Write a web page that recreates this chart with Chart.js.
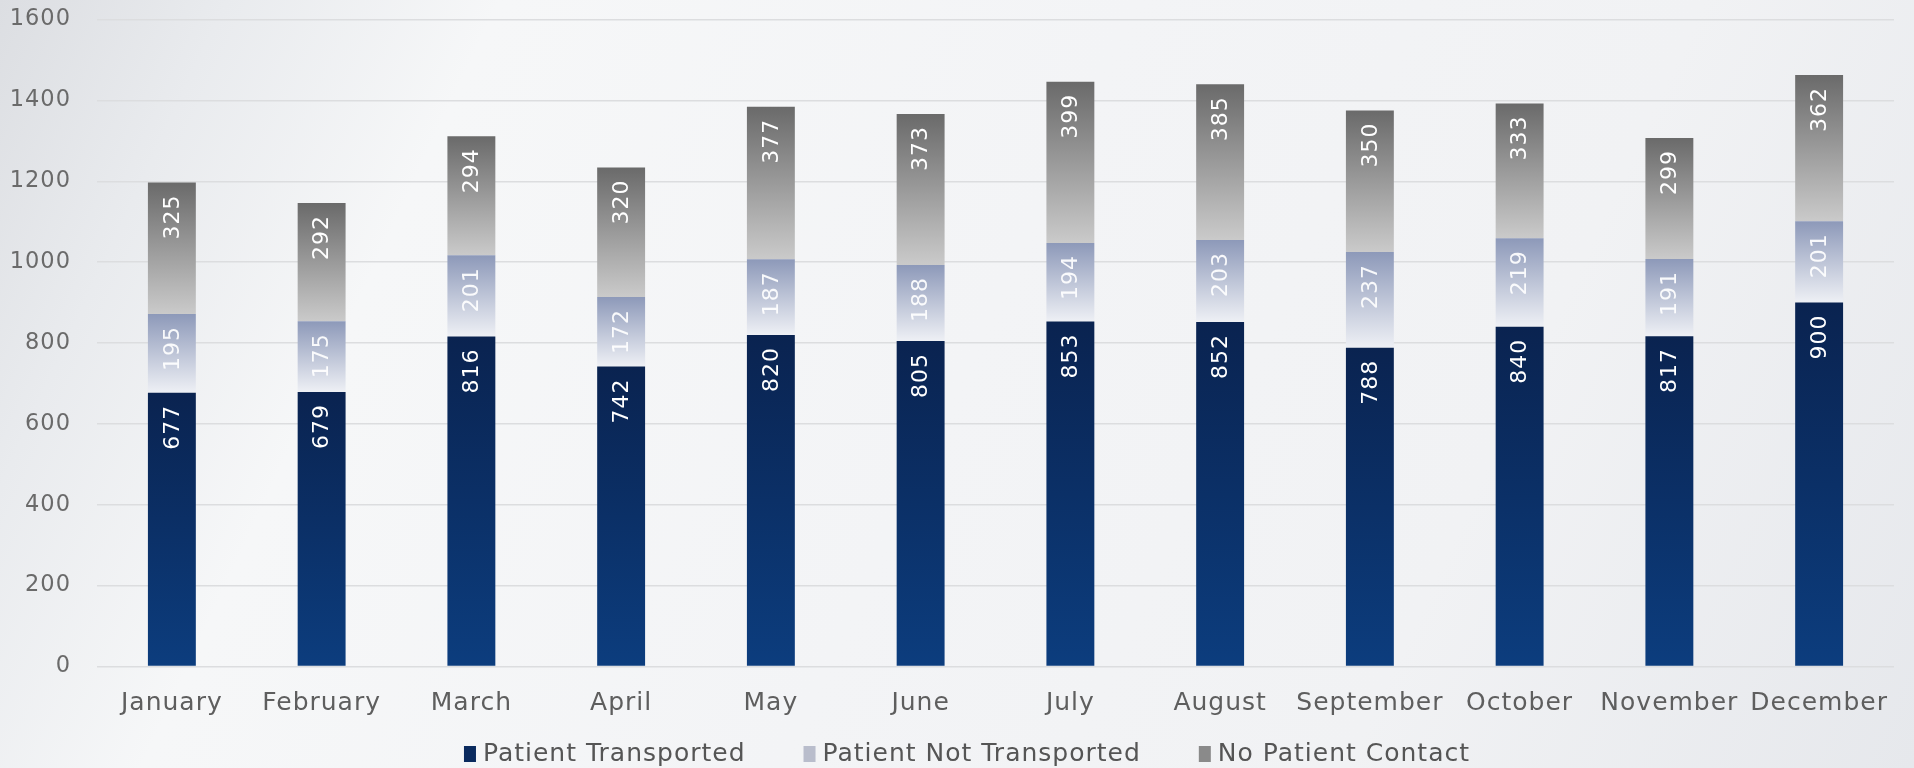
<!DOCTYPE html>
<html>
<head>
<meta charset="utf-8">
<script src="https://cdn.jsdelivr.net/npm/chart.js@4"></script>
<style>
  html, body { margin: 0; padding: 0; }
  body {
    width: 1914px; height: 768px; overflow: hidden;
    background: linear-gradient(115deg, #dcdee2 0%, #e9ebee 10%, #f6f7f8 22%, #f3f4f6 50%, #f1f2f4 75%, #e6e8ec 100%);
  }
  #wrap { position: relative; width: 1914px; height: 768px; }
</style>
</head>
<body>
<div id="wrap"><canvas id="calls"></canvas></div>
<script>
// monthly call outcomes
const months = ['January', 'February', 'March', 'April', 'May', 'June', 'July', 'August', 'September', 'October', 'November', 'December'];
const seriesNames = ['Patient Transported', 'Patient Not Transported', 'No Patient Contact'];
const transported = [677, 679, 816, 742, 820, 805, 853, 852, 788, 840, 817, 900];
const notTransported = [195, 175, 201, 172, 187, 188, 194, 203, 237, 219, 191, 201];
const noContact = [325, 292, 294, 320, 377, 373, 399, 385, 350, 333, 299, 362];
const yTicks = [0, 200, 400, 600, 800, 1000, 1200, 1400, 1600];

// top / bottom colour of each stacked segment
const gradStops = [
  ['#0a2350', '#0c3d7e'],
  ['#8d99b9', '#eef0f5'],
  ['#6a6a6a', '#cacaca'],
];
const legendColors = ['#0a2a5e', '#b9bdcc', '#8a8a8a'];
const labelColors = ['#ffffff', 'rgba(255,255,255,0.92)', '#ffffff'];

const FONT = "'DejaVu Sans', sans-serif";

// gradient that spans only the segment being painted
const segmentFill = (c) => {
  const chart = c.chart;
  const stops = gradStops[c.datasetIndex];
  if (c.type !== 'data' || !chart.chartArea) return stops[0];
  const y = chart.scales.y;
  let base = 0;
  for (let k = 0; k < c.datasetIndex; k++) base += chart.data.datasets[k].data[c.dataIndex];
  const value = chart.data.datasets[c.datasetIndex].data[c.dataIndex];
  const top = y.getPixelForValue(base + value);
  const bottom = y.getPixelForValue(base);
  const g = chart.ctx.createLinearGradient(0, top, 0, bottom);
  g.addColorStop(0, stops[0]);
  g.addColorStop(1, stops[1]);
  return g;
};

// the original font is a wide one, so open up the letters a bit
const wideText = {
  id: 'wideText',
  beforeLayout(chart) { chart.ctx.letterSpacing = '1px'; },
  beforeDraw(chart) { chart.ctx.letterSpacing = '1px'; },
};

// rotated value labels just under the top of each segment
const segmentLabels = {
  id: 'segmentLabels',
  afterDatasetsDraw(chart) {
    const ctx = chart.ctx;
    chart.data.datasets.forEach((ds, i) => {
      const meta = chart.getDatasetMeta(i);
      meta.data.forEach((bar, j) => {
        ctx.save();
        ctx.translate(bar.x, bar.y + 12);
        ctx.rotate(-Math.PI / 2);
        ctx.font = '22px ' + FONT;
        ctx.fillStyle = labelColors[i];
        ctx.textAlign = 'right';
        ctx.textBaseline = 'middle';
        ctx.fillText(String(ds.data[j]), 0, 1);
        ctx.restore();
      });
    });
  }
};

// one-row legend under the month labels (tight box/text gap, wide item gap)
const bottomLegend = {
  id: 'bottomLegend',
  afterDraw(chart) {
    const ctx = chart.ctx;
    const boxW = 12, boxH = 16, textGap = 7, itemGap = 58;
    const rowY = 754;
    ctx.save();
    ctx.font = '25px ' + FONT;
    const widths = seriesNames.map(t => ctx.measureText(t).width);
    const total = widths.reduce((s, w) => s + boxW + textGap + w, 0) + itemGap * (seriesNames.length - 1);
    let x = chart.width / 2 + 10 - total / 2;
    seriesNames.forEach((name, i) => {
      ctx.fillStyle = legendColors[i];
      ctx.fillRect(x, rowY - boxH / 2, boxW, boxH);
      ctx.fillStyle = '#555555';
      ctx.textAlign = 'left';
      ctx.textBaseline = 'middle';
      ctx.fillText(name, x + boxW + textGap, rowY);
      x += boxW + textGap + widths[i] + itemGap;
    });
    ctx.restore();
  }
};

new Chart(document.getElementById('calls'), {
  type: 'bar',
  data: {
    labels: months,
    datasets: [
      { label: seriesNames[0], data: transported },
      { label: seriesNames[1], data: notTransported },
      { label: seriesNames[2], data: noContact },
    ].map(ds => ({
      ...ds,
      backgroundColor: segmentFill,
      borderWidth: 0,
      categoryPercentage: 1,
      barPercentage: 0.32,
    })),
  },
  options: {
    responsive: true,
    maintainAspectRatio: false,
    animation: false,
    layout: { padding: { top: 0, right: 20, bottom: 49, left: 0 } },
    plugins: {
      tooltip: { enabled: false },
      legend: { display: false },
    },
    scales: {
      x: {
        stacked: true,
        grid: { display: false, drawTicks: false },
        border: { display: false },
        ticks: {
          padding: 22,
          color: '#5e5e5e',
          maxRotation: 0,
          autoSkip: false,
          font: { family: FONT, size: 25 },
        },
        afterFit: (s) => { s.height = 52.5; },
      },
      y: {
        stacked: true,
        min: 0,
        max: 1600,
        afterBuildTicks: (s) => { s.ticks = yTicks.map(v => ({ value: v })); },
        grid: { color: '#dcdddf', lineWidth: 1.5, drawTicks: false },
        border: { display: false },
        ticks: {
          padding: 26,
          color: '#6a6a6a',
          font: { family: FONT, size: 22.5 },
          callback: (v) => String(v),
        },
        afterFit: (s) => {
          s.width = 97;
          s.paddingTop = 19.5;
          s.paddingBottom = 0;
        },
      },
    },
  },
  plugins: [wideText, segmentLabels, bottomLegend],
});
</script>
</body>
</html>
